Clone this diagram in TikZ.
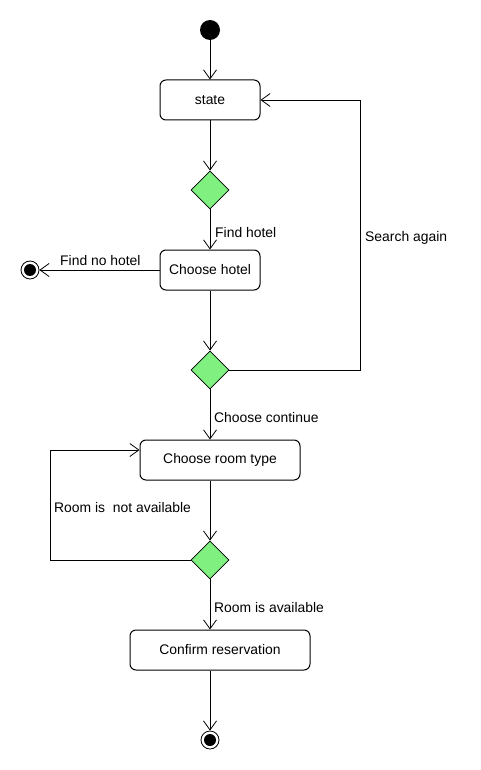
\documentclass[tikz,border=0pt]{standalone}
\usepackage{fontspec}
\setmainfont{Liberation Sans}
\usetikzlibrary{shapes.geometric,arrows.meta}
\definecolor{decgreen}{RGB}{128,240,128}
\begin{document}
\begin{tikzpicture}[x=1pt,y=-1pt,
  every node/.style={font=\fontsize{13.9}{15}\selectfont},
  actbox/.style={draw,line width=1pt,rounded corners=6pt,minimum height=40pt,inner sep=0pt},
  decision/.style={draw,line width=0.8pt,diamond,fill=decgreen,minimum width=38pt,minimum height=38pt,inner sep=0pt},
  startnode/.style={circle,fill=black,minimum size=20pt,inner sep=0pt},
  endnode/.style={circle,draw,line width=0.8pt,fill=white,minimum size=18pt,inner sep=0pt,
    path picture={\fill[black] (path picture bounding box.center) circle (6pt);}},
  flow/.style={draw,line width=0.8pt,-{Straight Barb[length=9pt,width=13pt,line width=0.8pt]}},
  lbl/.style={anchor=west,inner sep=0pt}
]
\useasboundingbox (0,0) rectangle (480,770);
\fill[white] (0,0) rectangle (480,770);

\node[startnode] (start) at (210,30) {};
\node[actbox,minimum width=100pt] (state) at (210,100) {state};
\node[decision] (d1) at (210,190) {};
\node[actbox,minimum width=100pt] (hotel) at (210,270) {Choose hotel};
\node[endnode] (end1) at (30,270) {};
\node[decision] (d2) at (210,370) {};
\node[actbox,minimum width=160pt] (room) at (220,460) {Choose room type};
\node[decision] (d3) at (210,560) {};
\node[actbox,minimum width=180pt] (confirm) at (220,650) {Confirm reservation};
\node[endnode] (end2) at (210,740) {};

\coordinate (sa) at (360,370);
\coordinate (rl) at (50,560);

\path[flow] (start) -- (state);
\path[flow] (state) -- (d1);
\path[flow] (d1) -- (hotel);
\path[flow] (hotel.west) -- (end1);
\path[flow] (hotel) -- (d2);
\path[flow] (d2.east) -- (sa) |- (state.east);
\path[flow] (d2.south) -- (d2.south |- room.north);
\path[flow] (room.south -| d3) -- (d3);
\path[flow] (d3.west) -- (rl) |- ([yshift=10pt]room.west);
\path[flow] (d3.south) -- (d3.south |- confirm.north);
\path[flow] (confirm.south -| end2) -- (end2);

\node[lbl] (l1) at (215,233) {Find hotel};
\node[lbl] (l2) at (60,261) {Find no hotel};
\node[lbl] (l3) at (365,238) {Search again};
\node[lbl] (l4) at (214,418) {Choose continue};
\node[lbl] (l5) at (54,508) {Room is\ \ not available};
\node[lbl] (l6) at (214,608) {Room is available};
\end{tikzpicture}
\end{document}
